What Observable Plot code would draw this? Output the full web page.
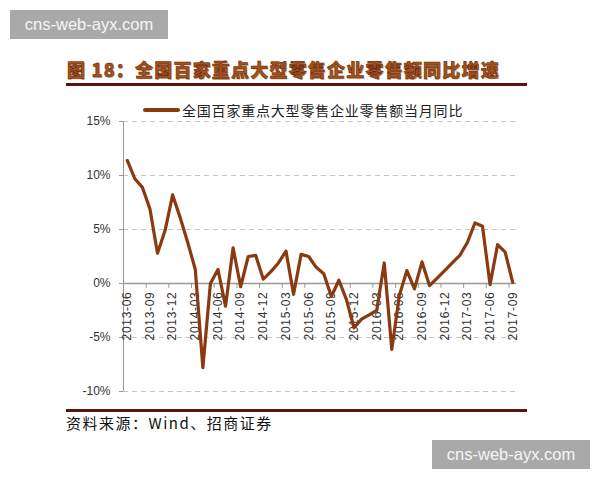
<!DOCTYPE html>
<html>
<head>
<meta charset="utf-8">
<script src="https://cdn.jsdelivr.net/npm/d3@7"></script>
<script src="https://cdn.jsdelivr.net/npm/@observablehq/plot@0.6"></script>
<style>
  html, body { margin:0; padding:0; background:#fff; }
  body { width:600px; height:480px; position:relative; overflow:hidden; font-family:"Liberation Sans", Arial, sans-serif; }
  .abs { position:absolute; }
  .wm { background:#a9a9a9; color:#f5f5f5; font-family:"Liberation Sans", Arial, sans-serif; font-size:16.5px; width:158px; height:29px; line-height:29px; text-align:center; }
  #title { left:67px; top:57px; font-family:"Noto Sans CJK SC", sans-serif; font-weight:900; font-size:18px; line-height:24px; letter-spacing:1.2px; color:#a4521a; -webkit-text-stroke:0.5px #5a1805; text-shadow:1px 1px 0 #e3c4a0; white-space:nowrap; }
  .rule { left:66px; width:461px; height:3px; background:#5a1212; }
  #legline { left:143px; top:108px; width:37px; height:4px; background:#8b3a0f; border-radius:2px; }
  #legtext { left:182px; top:100px; font-family:"Noto Sans CJK SC", sans-serif; font-size:14px; line-height:20px; letter-spacing:0.8px; color:#222; white-space:nowrap; }
  #source { left:66px; top:412px; font-family:"Noto Sans CJK SC", sans-serif; font-size:15px; line-height:22px; letter-spacing:1.5px; color:#111; white-space:nowrap; }
  #chart { left:0; top:100px; }
  #chart g[aria-label="text"] text { letter-spacing:0.7px; }
</style>
</head>
<body>
<div class="abs wm" style="left:10px; top:10px;">cns-web-ayx.com</div>
<div class="abs" id="title">图 18：全国百家重点大型零售企业零售额同比增速</div>
<div class="abs rule" style="top:83px;"></div>
<div class="abs" id="legline"></div>
<div class="abs" id="legtext">全国百家重点大型零售企业零售额当月同比</div>
<div class="abs" id="chart"></div>
<div class="abs rule" style="top:409px;"></div>
<div class="abs" id="source">资料来源：Wind、招商证券</div>
<div class="abs wm" style="left:432px; top:440px;">cns-web-ayx.com</div>
<script>
const months = [
  "2013-06","2013-07","2013-08","2013-09","2013-10","2013-11","2013-12",
  "2014-01","2014-02","2014-03","2014-04","2014-05","2014-06","2014-07","2014-08","2014-09","2014-10","2014-11","2014-12",
  "2015-01","2015-02","2015-03","2015-04","2015-05","2015-06","2015-07","2015-08","2015-09","2015-10","2015-11","2015-12",
  "2016-01","2016-02","2016-03","2016-04","2016-05","2016-06","2016-07","2016-08","2016-09","2016-10","2016-11","2016-12",
  "2017-01","2017-02","2017-03","2017-04","2017-05","2017-06","2017-07","2017-08","2017-09"
];
const values = [
  11.4, 9.7, 8.9, 6.9, 2.8, 4.9, 8.2,
  6.1, 3.8, 1.3, -7.8, 0.0, 1.3, -2.1, 3.3, -0.3, 2.5, 2.6, 0.4,
  1.1, 1.9, 3.0, -1.0, 2.7, 2.5, 1.5, 0.9, -1.2, 0.3, -1.5, -4.1,
  -3.3, -2.9, -2.5, 1.9, -6.1, -1.1, 1.2, -0.5, 2.0, -0.2, 0.5, 1.2,
  1.9, 2.6, 3.8, 5.6, 5.3, -0.1, 3.6, 2.9, 0.1
];
const tickLabels = ["2013-06","2013-09","2013-12","2014-03","2014-06","2014-09","2014-12","2015-03","2015-06","2015-09","2015-12","2016-03","2016-06","2016-09","2016-12","2017-03","2017-06","2017-09"];
const yTicks = [-10, -5, 0, 5, 10, 15];

const data = months.map((m, i) => ({i, month: m, value: values[i]}));
const labelIdx = tickLabels.map(t => months.indexOf(t));
const boundaries = labelIdx.map(i => i - 0.5);

const chart = Plot.plot({
  width: 600,
  height: 300,
  marginTop: 21,
  marginBottom: 9,
  marginLeft: 123,
  marginRight: 84,
  x: {type: "linear", domain: [-0.5, months.length - 0.5], axis: null},
  y: {domain: [-10, 15], axis: null},
  style: {fontFamily: "'Liberation Sans', Arial, sans-serif", fontSize: "12px", color: "#333", background: "transparent", overflow: "visible"},
  marks: [
    Plot.ruleY(yTicks.filter(d => d !== 0), {stroke: "#c4c4c4", strokeDasharray: "5,4"}),
    Plot.ruleX([-0.5], {y1: -10, y2: 15, stroke: "#999"}),
    Plot.ruleY([0], {stroke: "#999", strokeWidth: 1.6}),
    Plot.axisY({ticks: yTicks, tickFormat: d => d + "%", tickSize: 4, tickPadding: 9, stroke: "#999", fill: "#333", fontSize: 12, label: null}),
    Plot.ruleX(boundaries, {y1: 0, y2: -0.45, stroke: "#999"}),
    Plot.text(labelIdx, {x: d => d, y: 0, text: d => months[d], rotate: -90, textAnchor: "end", dy: 8, fontSize: 12, fill: "#333"}),
    Plot.line(data, {x: "i", y: "value", stroke: "#8b3a0f", strokeWidth: 3.2, strokeLinejoin: "round"})
  ]
});
document.getElementById("chart").appendChild(chart);
</script>
</body>
</html>
